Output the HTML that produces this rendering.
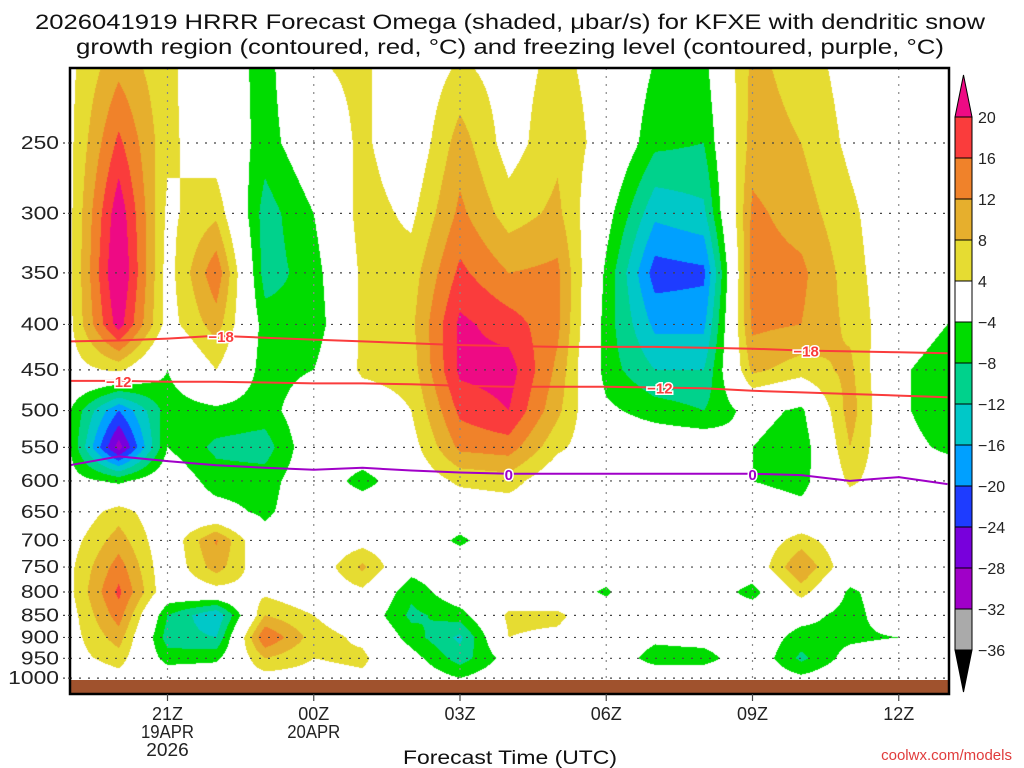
<!DOCTYPE html>
<html><head><meta charset="utf-8">
<style>
html,body{margin:0;padding:0;background:#fff;}
#wrap{position:relative;width:1024px;height:768px;overflow:hidden;font-family:"Liberation Sans",sans-serif;}
#field{position:absolute;left:0;top:0;}
#ov{position:absolute;left:0;top:0;}
</style></head>
<body>
<div id="wrap">
<canvas id="field" width="1024" height="768"></canvas>
<svg id="ov" width="1024" height="768" xmlns="http://www.w3.org/2000/svg">
<text x="510" y="29" text-anchor="middle" font-size="21" textLength="950" lengthAdjust="spacingAndGlyphs" fill="#111">2026041919 HRRR Forecast Omega (shaded, μbar/s) for KFXE with dendritic snow</text>
<text x="510" y="54" text-anchor="middle" font-size="21" textLength="868" lengthAdjust="spacingAndGlyphs" fill="#111">growth region (contoured, red, °C) and freezing level (contoured, purple, °C)</text>
<g id="grid"></g>
<g id="lines"></g>
<rect x="70" y="680" width="879" height="14" fill="#a0522d"/>
<rect x="70" y="68" width="879" height="626" fill="none" stroke="#000" stroke-width="2.5"/>
<g id="yax"></g>
<g id="xax"></g>
<text x="510" y="764" text-anchor="middle" font-size="19" textLength="214" lengthAdjust="spacingAndGlyphs" fill="#111">Forecast Time (UTC)</text>
<text x="1012" y="760" text-anchor="end" font-size="15" fill="#e03c3c">coolwx.com/models</text>
<g id="cbar"></g>
</svg>
</div>
<script>
// ---- data ----
const pressures = [200,250,300,350,400,450,500,550,600,650,700,750,800,850,900,950,1000];
const hours = [0,1,2,3,4,5,6,7,8,9,10,11,12,13,14,15,16,17,18]; // hours since 19Z
const omega_h0  = [3,3,3,3,3,2,-4,-4,-2,0,2,3,3,2,2,2,0];
const omega_h1  = [10,17,23,25,22,5,-20,-30,-5,6,10,14,17,14,10,6,2];
const omega_h2  = [5,5,3,2,2,-4,-6,-4,0,0,0,0,0,-8,-10,-6,0];
const omega_h3  = [0,1,7,15,10,4,-5,-9,-6,-2,12.5,10,2,-16,-12,-5,0];
const omega_h4  = [-6,-6,-10,-10,-6,-6,-6,-10,-6,-5,-2,0,3,8,16,8,2];
const omega_h5  = [4,0,-4,-6,-7,-4,0,0,0,0,0,0,0,4,6,4,2];
const omega_h6  = [5,5,6,5,5,5,0,0,-6,0,2,9,3,0,3,5,3];
const omega_h7  = [0,0,3,6,7,6,4,2,0,0,0,-2,-7,-9,-6,-2,0];
const omega_h8  = [4,10,13,17,21,21,17,13,5,0,-5,0,0,-6,-13,-10,-4];
const omega_h9  = [2,2,6,12,18,22,20,14,6,1,0,0,0,5,4,-2,0];
const omega_h10 = [5,7,9,13,13,11,9,5,0,0,0,0,0,5,3,0,0];
const omega_h11 = [2,2,-2,-5,-6,-6,-3,0,0,0,0,0,-5,0,0,0,0];
const omega_h12 = [-4,-7,-15,-22,-17,-12,-6,0,0,0,0,3,4,0,-3,-6,0];
const omega_h13 = [-5,-8,-13,-21,-17,-12,-8,0,0,0,0,2,0,0,-2,-6,0];
const omega_h14 = [9,10,13,14,13,9,-2,-4,-4,0,0,0,-6,0,0,0,0];
const omega_h15 = [6,8,10,13,12,6,-5,-7,-6,-2,6,12,6,-2,-6,-9,-3];
const omega_h16 = [2,3,5,6,7,9,10,8,5,0,0,0,-5,-6,-5,-2,0];
const omega_h17 = [0,0,0,0,0,-3,-3,-2,0,0,0,0,0,0,-4,0,0];
const omega_h18 = [0,0,0,-1,-4,-7,-7,-5,0,0,4,2,0,0,0,4,0];
const omegaCols = [omega_h0,omega_h1,omega_h2,omega_h3,omega_h4,omega_h5,omega_h6,omega_h7,omega_h8,omega_h9,omega_h10,omega_h11,omega_h12,omega_h13,omega_h14,omega_h15,omega_h16,omega_h17,omega_h18];
const isoM18 = [418,417,415,412,414,416,418,420,422,423,424,424,424,425,426,428,429,430,431];
const isoM12 = [463,463,464,464,465,466,466,467,469,470,470,470,471,472,475,477,479,481,483];
const iso0   = [576,563,570,576,580,583,580,584,587,589,589,589,589,589,589,591,600,594,605];
const levels = [20,16,12,8,4,-4,-8,-12,-16,-20,-24,-28,-32,-36];
const levelColors = ["#ee0a84","#fa3c3c","#f0822a","#e6af2d","#e6dc32","#ffffff","#00dc00","#00d28c","#00c8c8","#00a0ff","#1e3cff","#7800dc","#a000c8","#aaaaaa","#000000"];
const yTickLabels = [250,300,350,400,450,500,550,600,650,700,750,800,850,900,950,1000];
const xTickHours = [2,5,8,11,14,17];
const xTickLabels = ["21Z","00Z","03Z","06Z","09Z","12Z"];
const xDateLabels = [["19APR","2026"],["20APR"],[],[],[],[]];
const cbarLabels = ["20","16","12","8","4","\u22124","\u22128","\u221212","\u221216","\u221220","\u221224","\u221228","\u221232","\u221236"];

// ---- axes ----
const X0=70, X1=949, Y0=68, Y1=694, PX_PER_H=48.75;
function xOf(h){return X0 + h*PX_PER_H;}
function yOf(p){return 143 + (Math.log(p)-Math.log(250))*386;}
function pOf(y){return 250*Math.exp((y-143)/386);}
const NS="http://www.w3.org/2000/svg";
function mk(tag,attrs,parent){const e=document.createElementNS(NS,tag);for(const k in attrs)e.setAttribute(k,attrs[k]);parent.appendChild(e);return e;}

// ---- shaded field ----
function hex(c){return [parseInt(c.substr(1,2),16),parseInt(c.substr(3,2),16),parseInt(c.substr(5,2),16)];}
const rgbs = levelColors.map(hex);
function idxFor(v){for(let i=0;i<levels.length;i++){if(v>=levels[i])return i;}return levels.length;}
(function(){
  const cv=document.getElementById('field'), ctx=cv.getContext('2d');
  const w=X1-X0, h=680-Y0;
  const img=ctx.createImageData(w,h);
  const lnp=pressures.map(p=>Math.log(p));
  for(let py=0;py<h;py++){
    const lp=Math.log(pOf(Y0+py+0.5));
    let r=0; while(r<lnp.length-2 && lp>lnp[r+1]) r++;
    let fr=(lp-lnp[r])/(lnp[r+1]-lnp[r]); fr=Math.max(0,Math.min(1,fr));
    for(let px=0;px<w;px++){
      const t=(px+0.5)/PX_PER_H;
      let c=Math.floor(t); if(c>hours.length-2)c=hours.length-2; if(c<0)c=0;
      let fc=t-c; fc=Math.max(0,Math.min(1,fc));
      const A=omegaCols[c], B=omegaCols[c+1];
      const v=(A[r]*(1-fc)+B[r]*fc)*(1-fr)+(A[r+1]*(1-fc)+B[r+1]*fc)*fr;
      const col=rgbs[idxFor(v)];
      const k=(py*w+px)*4;
      img.data[k]=col[0];img.data[k+1]=col[1];img.data[k+2]=col[2];img.data[k+3]=255;
    }
  }
  ctx.putImageData(img,X0,Y0);
})();

// ---- gridlines & axes ----
const grid=document.getElementById('grid'), yax=document.getElementById('yax'), xax=document.getElementById('xax');
yTickLabels.forEach(p=>{
  const y=yOf(p);
  const gl=mk('line',{x1:X0,x2:X1,y1:y,y2:y,stroke:'#444','stroke-width':1.2,'stroke-dasharray':'2,7'},grid);
  
  
  const tk=mk('line',{x1:X0-7,x2:X0,y1:y,y2:y,stroke:'#444','stroke-width':1.2,'stroke-dasharray':'2,3'},yax);
  
  
  const s=String(p);
  const tx=mk('text',{x:59,y:y+6,'text-anchor':'end','font-size':18,fill:'#222',textLength:12.7*s.length,lengthAdjust:'spacingAndGlyphs'},yax);
  tx.textContent=s;
  
  
});
xTickHours.forEach((hh,i)=>{
  const x=xOf(hh);
  const gl=mk('line',{x1:x,x2:x,y1:Y0,y2:680,stroke:'#888','stroke-width':1.2,'stroke-dasharray':'2,6'},grid);
  
  
  const tk=mk('line',{x1:x,x2:x,y1:Y1,y2:Y1+7,stroke:'#444','stroke-width':1.2},xax);
  
  
  const tx=mk('text',{x:x,y:720,'text-anchor':'middle','font-size':18,fill:'#222',textLength:31,lengthAdjust:'spacingAndGlyphs'},xax);
  tx.textContent=xTickLabels[i];
  
  
  xDateLabels[i].forEach((d,j)=>{
    const dt=mk('text',{x:x,y:738+j*18,'text-anchor':'middle','font-size':18,fill:'#222',textLength:10.6*d.length,lengthAdjust:'spacingAndGlyphs'},xax);
    dt.textContent=d;
    
    
  });
});

// ---- contour lines ----
const lines=document.getElementById('lines');
function drawIso(arr,color,name,labelText,labelHours){
  const pts=arr.map((p,i)=>xOf(hours[i]).toFixed(1)+','+yOf(p).toFixed(1)).join(' ');
  const pl=mk('polyline',{points:pts,fill:'none',stroke:color,'stroke-width':2},lines);
  
  
  labelHours.forEach(hh=>{
    const i=Math.floor(hh), f=hh-i;
    const p=arr[i]*(1-f)+arr[Math.min(i+1,arr.length-1)]*f;
    const x=xOf(hh), y=yOf(p);
    const t=mk('text',{x:x,y:y+6,'text-anchor':'middle','font-size':15,'font-weight':'bold',fill:color,stroke:'#fff','stroke-width':3,'paint-order':'stroke'},lines);
    t.textContent=labelText;
    
    
  });
}
drawIso(isoM18,'#fa3c3c','isotherm-minus18','\u221218',[3.1,15.1]);
drawIso(isoM12,'#fa3c3c','isotherm-minus12','\u221212',[1.0,12.1]);
drawIso(iso0,'#a000c8','freezing-level','0',[9,14]);

// ---- colorbar ----
const cb=document.getElementById('cbar');
const CBX=955, CBW=17, CBTOP=117, CBBOX=41;
const nb=levels.length-1;
for(let i=0;i<nb;i++){
  const r=mk('rect',{x:CBX,y:CBTOP+i*CBBOX,width:CBW,height:CBBOX,fill:levelColors[i+1],stroke:'#000','stroke-width':1},cb);
  
  
}
const topT=mk('polygon',{points:`${CBX},${CBTOP} ${CBX+CBW},${CBTOP} ${CBX+CBW/2},75`,fill:levelColors[0],stroke:'#000'},cb);


const botY=CBTOP+nb*CBBOX;
const botT=mk('polygon',{points:`${CBX},${botY} ${CBX+CBW},${botY} ${CBX+CBW/2},${botY+42}`,fill:levelColors[levels.length],stroke:'#000'},cb);


cbarLabels.forEach((l,i)=>{
  const t=mk('text',{x:978,y:CBTOP+i*CBBOX+6,'font-size':16,fill:'#222'},cb);
  t.textContent=l;
  
  
});
</script>
</body></html>
